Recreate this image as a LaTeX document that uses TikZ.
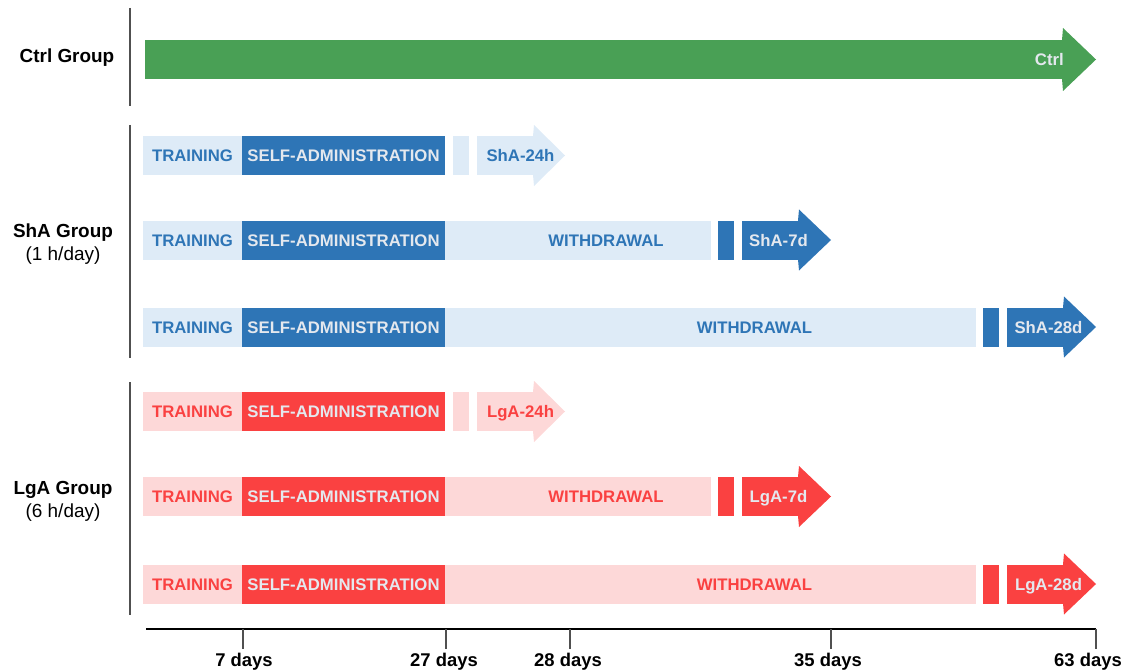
\documentclass[tikz,border=0pt]{standalone}
\usepackage{fontspec}
\setmainfont{Liberation Sans}
\usetikzlibrary{positioning}

\definecolor{ctrlgreen}{RGB}{73,160,85}
\definecolor{shadark}{RGB}{46,117,182}
\definecolor{shalight}{RGB}{222,235,247}
\definecolor{lgadark}{RGB}{250,65,65}
\definecolor{lgalight}{RGB}{253,216,216}
\definecolor{paletext}{RGB}{228,232,238}
\definecolor{linegrey}{RGB}{80,80,80}

\tikzset{
  phase/.style={rectangle,inner sep=0pt,outer sep=0pt,minimum height=39bp,text height=12bp,text depth=0pt,
    font=\fontsize{16.8}{18}\selectfont\bfseries},
  shaLight/.style={phase,fill=shalight,text=shadark},
  shaDark/.style={phase,fill=shadark,text=paletext},
  lgaLight/.style={phase,fill=lgalight,text=lgadark},
  lgaDark/.style={phase,fill=lgadark,text=paletext},
  arrowText/.style={inner sep=0pt,text height=12bp,text depth=0pt,font=\fontsize{16.8}{18}\selectfont\bfseries},
  groupText/.style={align=center,font=\fontsize{19}{23}\selectfont},
  dayText/.style={font=\fontsize{18.5}{20}\selectfont\bfseries},
  groupLine/.style={linegrey,line width=2bp}
}

\begin{document}
\begin{tikzpicture}[x=1bp,y=-1bp]
  \useasboundingbox (0,0) rectangle (1129,671);

  % group labels and separators
  \node[groupText] (ctrlg) at (67,58) {\bfseries Ctrl Group};
  \node[groupText] (shag) at (63,244) {\bfseries ShA Group\\(1 h/day)};
  \node[groupText] (lgag) at (63,501) {\bfseries LgA Group\\(6 h/day)};
  \coordinate (c1) at (130,8);   \coordinate (c2) at (130,106);
  \coordinate (s1) at (130,125); \coordinate (s2) at (130,358);
  \coordinate (l1) at (130,382); \coordinate (l2) at (130,615);
  \draw[groupLine] (c1) -- (c2);
  \draw[groupLine] (s1) -- (s2);
  \draw[groupLine] (l1) -- (l2);

  % control
  \node[phase,fill=ctrlgreen,minimum width=918bp] (ctrl) at (604,59.5) {};
  \fill[ctrlgreen] ([xshift=-1bp]ctrl.north east) -- ([yshift=12bp]ctrl.north east) -- ([xshift=33bp]ctrl.east)
    -- ([yshift=-12bp]ctrl.south east) -- ([xshift=-1bp]ctrl.south east) -- cycle;
  \node[arrowText,text=paletext,anchor=east] (ctrlt) at (1064,59.5) {Ctrl};

  % ShA 24h
  \node[shaLight,minimum width=99bp] (sa1tr) at (192.5,155.5) {TRAINING};
  \node[shaDark,minimum width=203bp,right=0pt of sa1tr] (sa1sa) {SELF-ADMINISTRATION};
  \node[shaLight,minimum width=16bp,right=8bp of sa1sa] (sa1gap) {};
  \node[shaLight,minimum width=57bp,right=8bp of sa1gap] (sa1arr) {};
  \fill[shalight] ([xshift=-1bp]sa1arr.north east) -- ([yshift=11bp]sa1arr.north east) -- ([xshift=31bp]sa1arr.east)
    -- ([yshift=-11bp]sa1arr.south east) -- ([xshift=-1bp]sa1arr.south east) -- cycle;
  \node[arrowText,text=shadark] (sa1t) at ([xshift=15bp]sa1arr.center) {ShA-24h};

  % ShA 7d
  \node[shaLight,minimum width=99bp] (sa2tr) at (192.5,240) {TRAINING};
  \node[shaDark,minimum width=203bp,right=0pt of sa2tr] (sa2sa) {SELF-ADMINISTRATION};
  \node[shaLight,minimum width=266bp,right=0pt of sa2sa] (sa2wd) {\hspace{56bp}WITHDRAWAL};
  \node[shaDark,minimum width=16bp,right=7bp of sa2wd] (sa2gap) {};
  \node[shaDark,minimum width=57bp,right=8bp of sa2gap] (sa2arr) {};
  \fill[shadark] ([xshift=-1bp]sa2arr.north east) -- ([yshift=11bp]sa2arr.north east) -- ([xshift=32bp]sa2arr.east)
    -- ([yshift=-11bp]sa2arr.south east) -- ([xshift=-1bp]sa2arr.south east) -- cycle;
  \node[arrowText,text=paletext] (sa2t) at ([xshift=8bp]sa2arr.center) {ShA-7d};

  % ShA 28d
  \node[shaLight,minimum width=99bp] (sa3tr) at (192.5,327) {TRAINING};
  \node[shaDark,minimum width=203bp,right=0pt of sa3tr] (sa3sa) {SELF-ADMINISTRATION};
  \node[shaLight,minimum width=531bp,right=0pt of sa3sa] (sa3wd) {\hspace{88bp}WITHDRAWAL};
  \node[shaDark,minimum width=16bp,right=7bp of sa3wd] (sa3gap) {};
  \node[shaDark,minimum width=57bp,right=8bp of sa3gap] (sa3arr) {};
  \fill[shadark] ([xshift=-1bp]sa3arr.north east) -- ([yshift=11bp]sa3arr.north east) -- ([xshift=32bp]sa3arr.east)
    -- ([yshift=-11bp]sa3arr.south east) -- ([xshift=-1bp]sa3arr.south east) -- cycle;
  \node[arrowText,text=paletext] (sa3t) at ([xshift=13bp]sa3arr.center) {ShA-28d};

  % LgA 24h
  \node[lgaLight,minimum width=99bp] (lg1tr) at (192.5,411.5) {TRAINING};
  \node[lgaDark,minimum width=203bp,right=0pt of lg1tr] (lg1sa) {SELF-ADMINISTRATION};
  \node[lgaLight,minimum width=16bp,right=8bp of lg1sa] (lg1gap) {};
  \node[lgaLight,minimum width=57bp,right=8bp of lg1gap] (lg1arr) {};
  \fill[lgalight] ([xshift=-1bp]lg1arr.north east) -- ([yshift=11bp]lg1arr.north east) -- ([xshift=31bp]lg1arr.east)
    -- ([yshift=-11bp]lg1arr.south east) -- ([xshift=-1bp]lg1arr.south east) -- cycle;
  \node[arrowText,text=lgadark] (lg1t) at ([xshift=15bp]lg1arr.center) {LgA-24h};

  % LgA 7d
  \node[lgaLight,minimum width=99bp] (lg2tr) at (192.5,496.5) {TRAINING};
  \node[lgaDark,minimum width=203bp,right=0pt of lg2tr] (lg2sa) {SELF-ADMINISTRATION};
  \node[lgaLight,minimum width=266bp,right=0pt of lg2sa] (lg2wd) {\hspace{56bp}WITHDRAWAL};
  \node[lgaDark,minimum width=16bp,right=7bp of lg2wd] (lg2gap) {};
  \node[lgaDark,minimum width=57bp,right=8bp of lg2gap] (lg2arr) {};
  \fill[lgadark] ([xshift=-1bp]lg2arr.north east) -- ([yshift=11bp]lg2arr.north east) -- ([xshift=32bp]lg2arr.east)
    -- ([yshift=-11bp]lg2arr.south east) -- ([xshift=-1bp]lg2arr.south east) -- cycle;
  \node[arrowText,text=paletext] (lg2t) at ([xshift=8bp]lg2arr.center) {LgA-7d};

  % LgA 28d
  \node[lgaLight,minimum width=99bp] (lg3tr) at (192.5,584) {TRAINING};
  \node[lgaDark,minimum width=203bp,right=0pt of lg3tr] (lg3sa) {SELF-ADMINISTRATION};
  \node[lgaLight,minimum width=531bp,right=0pt of lg3sa] (lg3wd) {\hspace{88bp}WITHDRAWAL};
  \node[lgaDark,minimum width=16bp,right=7bp of lg3wd] (lg3gap) {};
  \node[lgaDark,minimum width=57bp,right=8bp of lg3gap] (lg3arr) {};
  \fill[lgadark] ([xshift=-1bp]lg3arr.north east) -- ([yshift=11bp]lg3arr.north east) -- ([xshift=32bp]lg3arr.east)
    -- ([yshift=-11bp]lg3arr.south east) -- ([xshift=-1bp]lg3arr.south east) -- cycle;
  \node[arrowText,text=paletext] (lg3t) at ([xshift=13bp]lg3arr.center) {LgA-28d};

  % time axis
  \coordinate (ax0) at (146,629);
  \coordinate (t7) at (243,629);
  \coordinate (t27) at (446,629);
  \coordinate (t28) at (570,629);
  \coordinate (t35) at (831,629);
  \coordinate (t63) at (1096,629);
  \draw[line width=1.5bp] (ax0) -- (t63);
  \foreach \t in {t7,t27,t28,t35,t63}
    \draw[line width=1.2bp,linegrey] (\t) -- ++(0,20);
  \node[dayText] (d7) at (244,662) {7 days};
  \node[dayText] (d27) at (444,662) {27 days};
  \node[dayText] (d28) at (568,662) {28 days};
  \node[dayText] (d35) at (828,662) {35 days};
  \node[dayText] (d63) at (1088,662) {63 days};
\end{tikzpicture}
\end{document}
